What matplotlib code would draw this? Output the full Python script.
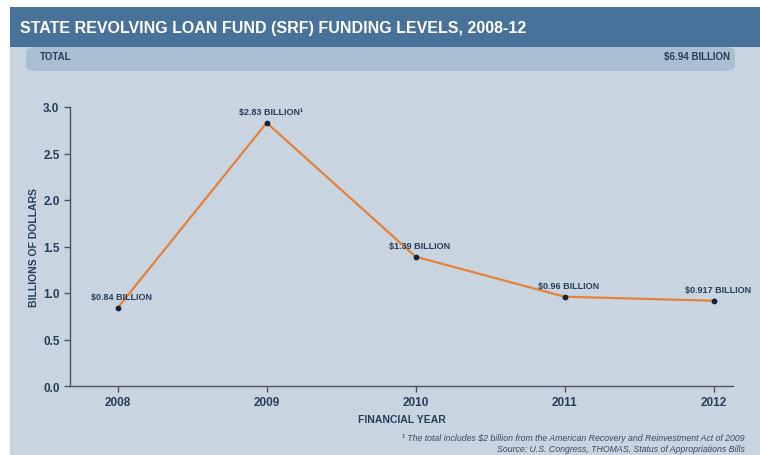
import matplotlib
matplotlib.use("Agg")
import matplotlib.pyplot as plt
from matplotlib.patches import Rectangle, FancyBboxPatch

plt.rcParams['font.family'] = ['Liberation Sans Narrow', 'Liberation Sans', 'DejaVu Sans']

years = [2008, 2009, 2010, 2011, 2012]
funding = [0.84, 2.83, 1.39, 0.96, 0.917]
point_labels = ["$0.84 BILLION", "$2.83 BILLION\u00b9", "$1.39 BILLION",
                "$0.96 BILLION", "$0.917 BILLION"]
yticks = [0.0, 0.5, 1.0, 1.5, 2.0, 2.5, 3.0]

navy = "#2a3d58"
W, H = 760, 456

fig = plt.figure(figsize=(7.6, 4.56), dpi=100)
fig.patch.set_facecolor("white")

def fx(px):
    return px / W

def fy(py):
    return 1 - py / H

# panel background, header band, total box
fig.patches.append(Rectangle((fx(10), 0), 1 - fx(10), fy(8), transform=fig.transFigure,
                             facecolor="#c8d4e0", edgecolor="none", zorder=0))
fig.patches.append(FancyBboxPatch((fx(26), fy(72)), fx(735 - 26), fy(48) - fy(72),
                                  boxstyle="round,pad=0,rounding_size=0.012",
                                  transform=fig.transFigure, facecolor="#abbfd3",
                                  edgecolor="none", zorder=1))
fig.patches.append(Rectangle((fx(10), fy(48)), 1 - fx(10), fy(8) - fy(48),
                             transform=fig.transFigure, facecolor="#48729a",
                             edgecolor="none", zorder=2))

fig.text(fx(20), fy(28), "STATE REVOLVING LOAN FUND (SRF) FUNDING LEVELS, 2008-12",
         color="white", fontsize=11.5, fontweight="bold", va="center", ha="left", zorder=3)
fig.text(fx(40), fy(57), "TOTAL", color=navy, fontsize=7, fontweight="bold",
         va="center", ha="left", zorder=3)
fig.text(fx(730), fy(57), "$6.94 BILLION", color=navy, fontsize=7, fontweight="bold",
         va="center", ha="right", zorder=3)

ax = fig.add_axes([fx(70), fy(387), fx(733 - 70), fy(108) - fy(387)])
ax.set_zorder(5)
ax.set_facecolor("none")
ax.plot(years, funding, color="#e5803a", lw=1.6, zorder=2)
ax.scatter(years, funding, s=10, color="#15233a", zorder=3)

for x, v, lab in zip(years, funding, point_labels):
    ax.annotate(lab, (x, v), xytext=(3, 5), textcoords="offset points",
                ha="center", va="bottom", fontsize=6.5, fontweight="bold", color=navy)

ax.set_xlim(2007.68, 2012.13)
ax.set_ylim(0, 3.0)
ax.set_xticks(years)
ax.set_yticks(yticks)
ax.set_yticklabels([f"{t:.1f}" for t in yticks])
for s in ["top", "right"]:
    ax.spines[s].set_visible(False)
for s in ["left", "bottom"]:
    ax.spines[s].set_color("#4a5563")
    ax.spines[s].set_linewidth(1)
ax.tick_params(colors="#4a5563", labelcolor=navy, length=4, width=1, labelsize=8.5)
for t in ax.get_xticklabels() + ax.get_yticklabels():
    t.set_fontweight("bold")

ax.set_ylabel("BILLIONS OF DOLLARS", fontsize=7.5, fontweight="bold", color=navy, labelpad=3)
ax.set_xlabel("FINANCIAL YEAR", fontsize=7.5, fontweight="bold", color=navy, labelpad=4)

fig.text(fx(745), fy(439),
         "\u00b9 The total includes $2 billion from the American Recovery and Reinvestment Act of 2009",
         fontsize=6.3, style="italic", color="#3a4a60", ha="right", va="center")
fig.text(fx(745), fy(450),
         "Source: U.S. Congress, THOMAS, Status of Appropriations Bills",
         fontsize=6.3, style="italic", color="#3a4a60", ha="right", va="center")

fig.savefig("out.png", dpi=100)
